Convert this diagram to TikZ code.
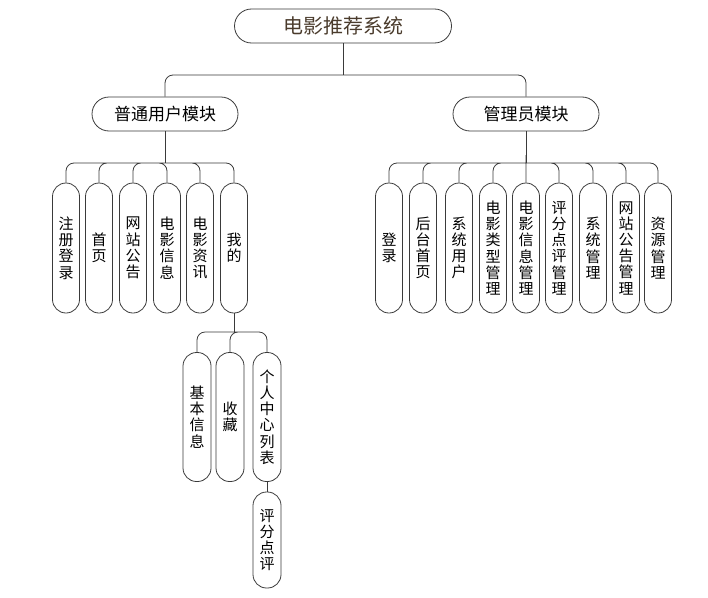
\documentclass[tikz,border=0pt]{standalone}
\usepackage{fontspec}
\newfontfamily\cjk{Noto Sans CJK SC}
\usepackage{tikz}
\usetikzlibrary{positioning,calc}
\definecolor{rootbrown}{HTML}{4A3B2C}
\definecolor{linegray}{HTML}{3A3A3A}
\tikzset{
    every node/.style={font=\cjk},
    rootbox/.style={draw=linegray,line width=0.8pt,rounded corners=17pt,minimum width=217pt,minimum height=34pt,inner sep=0pt,text=rootbrown,font=\cjk\fontsize{20}{22}\selectfont},
    modbox/.style={draw=linegray,line width=0.8pt,rounded corners=17pt,minimum width=146pt,minimum height=34pt,inner sep=0pt,font=\cjk\fontsize{17}{19}\selectfont},
    leaf/.style={draw=linegray,line width=0.8pt,rounded corners=13.5pt,minimum width=27pt,minimum height=130pt,inner sep=0pt,align=center,font=\cjk\fontsize{15}{16.2}\selectfont},
    link/.style={draw=linegray,line width=0.8pt,rounded corners=8pt}
}

\begin{document}
\begin{tikzpicture}[x=1pt,y=-1pt]
    \useasboundingbox (0,0) rectangle (708,597);
    % top levels
    \node[rootbox] (sys) at (343,26) {电影推荐系统};
    \node[modbox] (usr) at (165,114) {普通用户模块};
    \node[modbox] (adm) at (526,114) {管理员模块};
    % ordinary user
    \node[leaf] (reg) at (66,248) {注\\册\\登\\录};
    \node[leaf] (home) at (99,248) {首\\页};
    \node[leaf] (notice) at (133,248) {网\\站\\公\\告};
    \node[leaf] (info) at (167,248) {电\\影\\信\\息};
    \node[leaf] (news) at (200,248) {电\\影\\资\\讯};
    \node[leaf] (mine) at (234,248) {我\\的};
    % administrator
    \node[leaf] (login) at (389,248) {登\\录};
    \node[leaf] (back) at (423,248) {后\\台\\首\\页};
    \node[leaf] (sysusr) at (459,248) {系\\统\\用\\户};
    \node[leaf] (typemgr) at (493,248) {电\\影\\类\\型\\管\\理};
    \node[leaf] (infomgr) at (526,248) {电\\影\\信\\息\\管\\理};
    \node[leaf] (revmgr) at (559,248) {评\\分\\点\\评\\管\\理};
    \node[leaf] (sysmgr) at (593,248) {系\\统\\管\\理};
    \node[leaf] (noticemgr) at (626,248) {网\\站\\公\\告\\管\\理};
    \node[leaf] (resmgr) at (658,248) {资\\源\\管\\理};
    % my page
    \node[leaf,minimum width=28pt,minimum height=129pt] (basic) at (197,417) {基\\本\\信\\息};
    \node[leaf,minimum width=28pt,minimum height=129pt] (fav) at (230,417) {收\\藏};
    \node[leaf,minimum width=28pt,minimum height=129pt] (center) at (267,417) {个\\人\\中\\心\\列\\表};
    \node[leaf,minimum width=28pt,minimum height=96pt] (review) at (267,540) {评\\分\\点\\评};
    % junctions
    \coordinate (j0) at (343,75);
    \coordinate (j1) at (165,163);
    \coordinate (j2) at (526,163);
    \coordinate (j3) at (234,332);
    \draw[link] (sys.south) -- (j0);
    \draw[link] (j0) -| (usr.north) (j0) -| (adm.north);
    \draw[link] (usr.south) -- (j1);
    \draw[link] (j1) -| (reg.north) (j1) -| (home.north) (j1) -| (notice.north)
        (j1) -| (info.north) (j1) -| (news.north) (j1) -| (mine.north);
    \draw[link] (adm.south) -- (j2);
    \draw[link] (j2) -| (login.north) (j2) -| (back.north) (j2) -| (sysusr.north)
        (j2) -| (typemgr.north) (j2) -| (infomgr.north) (j2) -| (revmgr.north)
        (j2) -| (sysmgr.north) (j2) -| (noticemgr.north) (j2) -| (resmgr.north);
    \draw[link] (mine.south) -- (j3);
    \draw[link] (j3) -| (basic.north) (j3) -| (fav.north) (j3) -| (center.north);
    \draw[link] (center.south) -- (review.north);
\end{tikzpicture}
\end{document}
